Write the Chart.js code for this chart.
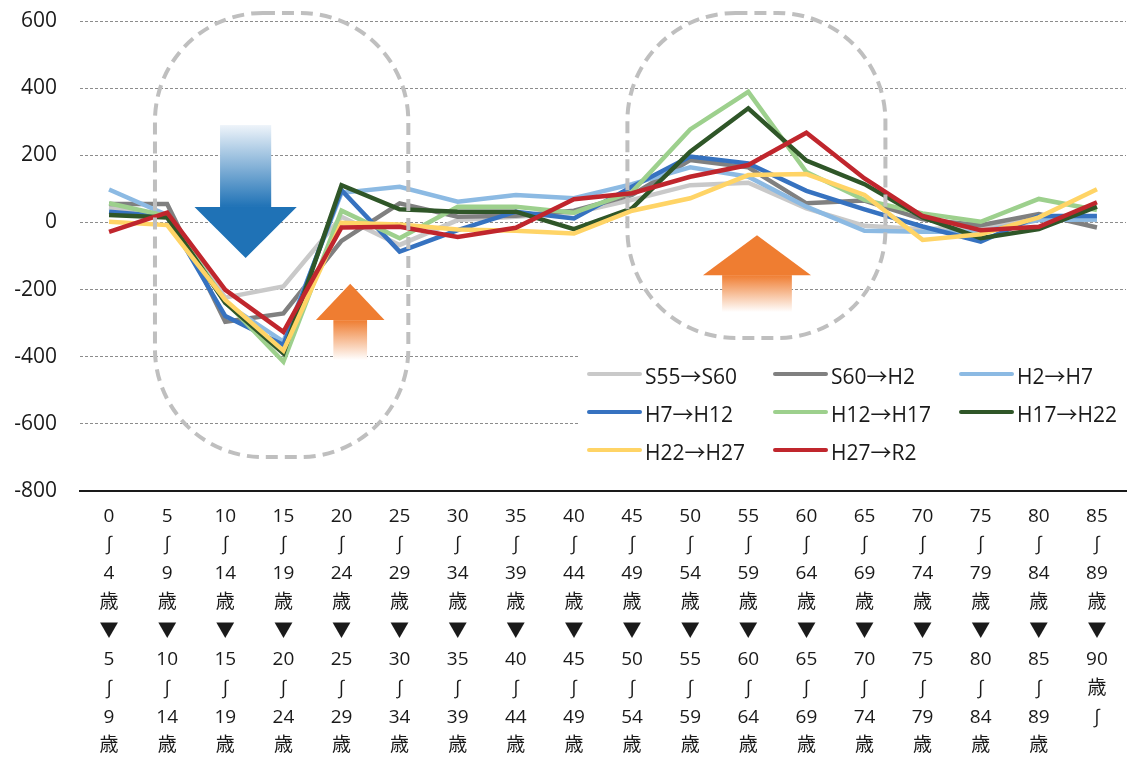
<!DOCTYPE html>
<html lang="ja">
<head>
<meta charset="utf-8">
<title>年齢階級別 純移動数の推移</title>
<script src="https://cdn.jsdelivr.net/npm/chart.js@4.4.1/dist/chart.umd.min.js"></script>
<style>
  html, body { margin: 0; padding: 0; background: #fff; }
  #wrap { position: relative; width: 1132px; height: 763px; }
</style>
</head>
<body>
<div id="wrap"><canvas id="chart" width="1132" height="763"></canvas></div>
<script>
// Cohort age groups (from → to), each label stacked vertically
const ageLabels = [
  ['0', '∫', '4', '歳', '▼', '5', '∫', '9', '歳'],
  ['5', '∫', '9', '歳', '▼', '10', '∫', '14', '歳'],
  ['10', '∫', '14', '歳', '▼', '15', '∫', '19', '歳'],
  ['15', '∫', '19', '歳', '▼', '20', '∫', '24', '歳'],
  ['20', '∫', '24', '歳', '▼', '25', '∫', '29', '歳'],
  ['25', '∫', '29', '歳', '▼', '30', '∫', '34', '歳'],
  ['30', '∫', '34', '歳', '▼', '35', '∫', '39', '歳'],
  ['35', '∫', '39', '歳', '▼', '40', '∫', '44', '歳'],
  ['40', '∫', '44', '歳', '▼', '45', '∫', '49', '歳'],
  ['45', '∫', '49', '歳', '▼', '50', '∫', '54', '歳'],
  ['50', '∫', '54', '歳', '▼', '55', '∫', '59', '歳'],
  ['55', '∫', '59', '歳', '▼', '60', '∫', '64', '歳'],
  ['60', '∫', '64', '歳', '▼', '65', '∫', '69', '歳'],
  ['65', '∫', '69', '歳', '▼', '70', '∫', '74', '歳'],
  ['70', '∫', '74', '歳', '▼', '75', '∫', '79', '歳'],
  ['75', '∫', '79', '歳', '▼', '80', '∫', '84', '歳'],
  ['80', '∫', '84', '歳', '▼', '85', '∫', '89', '歳'],
  ['85', '∫', '89', '歳', '▼', '90', '歳', '∫']
];

// Net migration per cohort and period
const s55_s60 = [45, 17, -224, -191, 17, -67, 7, 17, 28, 67, 111, 118, 42, -10, -20, -13, 10, 7];
const s60_h2  = [55, 55, -296, -271, -55, 57, 17, 20, 35, 82, 186, 164, 57, 65, 9, -8, 25, -15];
const h2_h7   = [98, 22, -240, -355, 88, 106, 62, 82, 72, 114, 164, 136, 47, -25, -28, -28, 7, 9];
const h7_h12  = [32, 17, -279, -365, 96, -87, -23, 32, 12, 106, 196, 176, 94, 39, -12, -57, 19, 19];
const h12_h17 = [57, 19, -235, -415, 35, -47, 47, 47, 29, 91, 277, 389, 150, 67, 27, 2, 70, 37];
const h17_h22 = [22, 15, -239, -390, 111, 39, 32, 32, -20, 42, 211, 340, 184, 114, 15, -47, -20, 47];
const h22_h27 = [2, -8, -231, -382, -1, -6, -21, -25, -33, 35, 72, 141, 144, 82, -52, -35, 15, 99];
const h27_r2  = [-28, 29, -201, -326, -15, -13, -43, -16, 69, 87, 136, 171, 267, 131, 19, -23, -13, 60];

const seriesNames  = ['S55→S60', 'S60→H2', 'H2→H7', 'H7→H12', 'H12→H17', 'H17→H22', 'H22→H27', 'H27→R2'];
const seriesValues = [s55_s60, s60_h2, h2_h7, h7_h12, h12_h17, h17_h22, h22_h27, h27_r2];
const seriesColors = ['#C9C9C9', '#808080', '#8CBAE3', '#3672C0', '#9DD08D', '#2F5628', '#FFD466', '#C0262D'];

// Value axis
const yMin = -800, yMax = 600, yStep = 200;

const FONT = '"Open Sans", "Noto Sans CJK JP", "DejaVu Sans", sans-serif';

// Highlight frames, in category index / value units
const focusFrames = [
  { from: 0.79, to: 5.15, top: 624, bottom: -699 },
  { from: 8.92, to: 13.36, top: 624, bottom: -344 }
];

// Trend arrows: centre (category index), half widths (category units), vertical extents (values)
const trendArrows = [
  { dir: 'down', cx: 2.35, shaftHalf: 0.44, headHalf: 0.88, tail: 290, headBase: 46, tip: -106, color: '#1F72B6', fade: '#EEF4FA' },
  { dir: 'up', cx: 4.15, shaftHalf: 0.29, headHalf: 0.59, tail: -410, headBase: -291, tip: -183, color: '#EF7D31', fade: '#FFFFFF' },
  { dir: 'up', cx: 11.15, shaftHalf: 0.60, headHalf: 0.93, tail: -267, headBase: -157, tip: -38, color: '#EF7D31', fade: '#FFFFFF' }
];

const decorPlugin = {
  id: 'decor',
  afterDatasetsDraw(chart) {
    const { ctx, scales: { x, y } } = chart;
    const catW = x.getPixelForValue(1) - x.getPixelForValue(0);

    // dashed rounded frames
    ctx.save();
    ctx.strokeStyle = '#BFBFBF';
    ctx.lineWidth = 4;
    ctx.setLineDash([12, 7]);
    focusFrames.forEach(f => {
      const l = x.getPixelForValue(f.from), r = x.getPixelForValue(f.to);
      const t = y.getPixelForValue(f.top), b = y.getPixelForValue(f.bottom);
      ctx.beginPath();
      ctx.roundRect(l, t, r - l, b - t, 108);
      ctx.stroke();
    });
    ctx.restore();

    // arrows
    trendArrows.forEach(a => {
      const cx = x.getPixelForValue(a.cx);
      const sh = a.shaftHalf * catW, hh = a.headHalf * catW;
      const tail = y.getPixelForValue(a.tail), base = y.getPixelForValue(a.headBase), tip = y.getPixelForValue(a.tip);
      ctx.save();
      const g = ctx.createLinearGradient(0, tail, 0, base);
      g.addColorStop(0, a.fade);
      g.addColorStop(1, a.color);
      ctx.fillStyle = g;
      ctx.fillRect(cx - sh, Math.min(tail, base), sh * 2, Math.abs(base - tail));
      ctx.fillStyle = a.color;
      ctx.beginPath();
      ctx.moveTo(cx - hh, base);
      ctx.lineTo(cx + hh, base);
      ctx.lineTo(cx, tip);
      ctx.closePath();
      ctx.fill();
      ctx.restore();
    });

    // legend panel
    const legendBox = { left: 578, top: 352, right: 1132, bottom: 472 };
    const cols = [587, 773, 959];
    const rows = [374, 412, 450];
    ctx.save();
    ctx.fillStyle = '#FFFFFF';
    ctx.fillRect(legendBox.left, legendBox.top, legendBox.right - legendBox.left, legendBox.bottom - legendBox.top);
    ctx.font = '21px ' + FONT;
    ctx.textBaseline = 'middle';
    ctx.textAlign = 'left';
    seriesNames.forEach((name, i) => {
      const cx0 = cols[i % 3], cy = rows[Math.floor(i / 3)];
      ctx.strokeStyle = seriesColors[i];
      ctx.lineWidth = 4;
      ctx.lineCap = 'round';
      ctx.beginPath();
      ctx.moveTo(cx0 + 2, cy);
      ctx.lineTo(cx0 + 53, cy);
      ctx.stroke();
      ctx.fillStyle = '#1A1A1A';
      ctx.fillText(name, cx0 + 58, cy + 4);
    });
    ctx.restore();
  }
};

const datasets = seriesValues.map((vals, i) => ({
  label: seriesNames[i],
  data: vals,
  borderColor: seriesColors[i],
  backgroundColor: seriesColors[i],
  borderWidth: 4.5,
  pointRadius: 0,
  pointHoverRadius: 0,
  tension: 0,
  fill: false,
  order: seriesValues.length - i
}));

new Chart(document.getElementById('chart'), {
  type: 'line',
  data: { labels: ageLabels, datasets },
  options: {
    responsive: false,
    animation: false,
    events: [],
    layout: { padding: { top: 21, right: 6, bottom: 0, left: 0 } },
    plugins: { legend: { display: false }, tooltip: { enabled: false } },
    scales: {
      x: {
        offset: true,
        grid: { display: false },
        border: { display: true, color: '#1A1A1A', width: 2 },
        ticks: {
          autoSkip: false,
          maxRotation: 0,
          padding: 3,
          color: '#1A1A1A',
          font: { size: 19, family: FONT, lineHeight: 1.51 }
        },
        afterFit(scale) { scale.height = 272; }
      },
      y: {
        min: yMin,
        max: yMax,
        grid: { color: '#8C8C8C', lineWidth: 1, drawTicks: false },
        border: { display: false, dash: [3, 2] },
        ticks: {
          stepSize: yStep,
          padding: 23,
          color: '#1A1A1A',
          font: { size: 21, family: FONT }
        },
        afterFit(scale) {
          scale.width = 80;
          // keep the label gap from pushing the plot area down
          scale.paddingTop = 12;
          scale.paddingBottom = 12;
        }
      }
    }
  },
  plugins: [decorPlugin]
});
</script>
</body>
</html>
